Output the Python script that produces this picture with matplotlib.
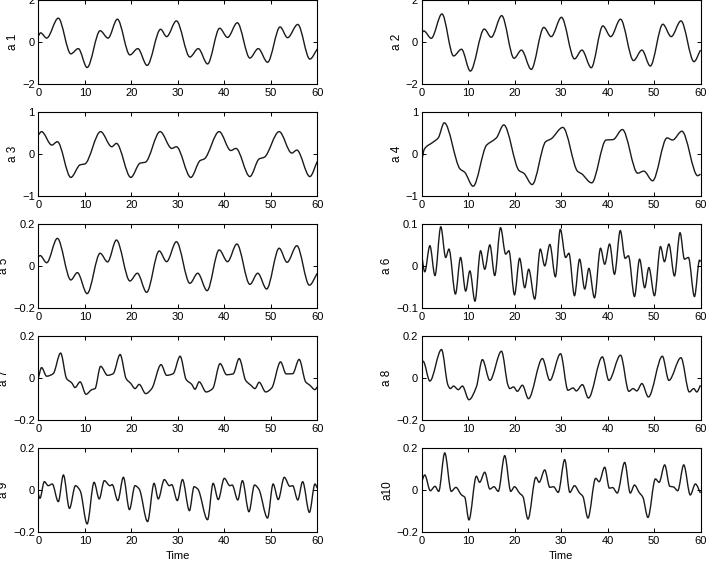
import numpy as np
import matplotlib
matplotlib.use("Agg")
import matplotlib.pyplot as plt
from matplotlib.path import Path
from matplotlib.patches import PathPatch

plt.rcParams['font.family'] = ['Liberation Sans', 'DejaVu Sans']

# ---- data: (time, value) of the turning points ----
t_a1 = [0, 0.5, 1.8, 4.3, 7.0, 8.6, 10.5, 13.3, 15.0, 17.0, 19.7, 21.4, 23.4, 26.3, 27.6, 29.7,
        32.6, 34.4, 36.4, 39.0, 40.7, 42.8, 45.5, 47.3, 49.3, 52.0, 53.6, 55.8, 58.4, 60]
v_a1 = [0.3, 0.45, 0.2, 1.15, -0.55, -0.3, -1.2, 0.55, 0.2, 1.1, -0.6, -0.3, -1.1, 0.62, 0.27, 1.02,
        -0.7, -0.3, -1.03, 0.67, 0.23, 0.93, -0.75, -0.3, -0.95, 0.73, 0.22, 0.85, -0.8, -0.32]

t_a2 = [0, 0.5, 2.1, 4.4, 6.9, 8.6, 10.5, 13.5, 15.0, 17.25, 19.9, 21.5, 23.6, 26.3, 27.9, 30.1,
        32.9, 34.5, 36.5, 39.0, 40.7, 42.8, 45.6, 47.4, 49.2, 51.9, 53.7, 55.8, 58.6, 60]
v_a2 = [0.43, 0.54, 0.19, 1.35, -0.65, -0.33, -1.37, 0.63, 0.24, 1.27, -0.76, -0.37, -1.29, 0.71, 0.27, 1.19,
        -0.79, -0.37, -1.21, 0.78, 0.27, 1.1, -0.87, -0.37, -1.13, 0.86, 0.27, 1.02, -0.92, -0.37]

t_a3 = [0, 0.7, 2.9, 4.1, 7.0, 9.0, 10.0, 13.4, 15.8, 16.8, 19.9, 21.9, 23.0, 26.2, 28.7, 29.7,
        32.8, 34.8, 35.7, 38.9, 41.4, 42.5, 45.5, 47.5, 48.6, 51.8, 54.5, 55.6, 58.4, 60]
v_a3 = [0.46, 0.54, 0.22, 0.3, -0.55, -0.25, -0.23, 0.54, 0.18, 0.26, -0.55, -0.21, -0.19, 0.54, 0.14, 0.18,
        -0.55, -0.15, -0.11, 0.54, 0.09, 0.14, -0.53, -0.11, -0.07, 0.54, 0.03, 0.1, -0.53, -0.17]

t_a4 = [0, 0.6, 2.5, 3.6, 4.9, 8.3, 9.3, 11.1, 14.0, 15.0, 16.1, 17.7, 21.0, 22.0, 23.8, 26.7, 27.9,
        30.4, 33.6, 34.4, 36.6, 39.7, 41.2, 43.2, 46.5, 47.8, 49.7, 52.8, 54.0, 56.0, 59.4, 60]
v_a4 = [-0.19, 0.12, 0.29, 0.39, 0.75, -0.35, -0.43, -0.76, 0.22, 0.3, 0.39, 0.7, -0.39, -0.45, -0.72, 0.3, 0.37,
        0.64, -0.41, -0.46, -0.68, 0.34, 0.35, 0.59, -0.45, -0.4, -0.63, 0.39, 0.34, 0.55, -0.51, -0.47]

t_a5 = [0, 0.4, 1.8, 4.1, 7.0, 8.4, 10.5, 13.3, 14.9, 16.8, 19.7, 21.3, 23.3, 26.0, 27.6, 29.7,
        32.6, 34.3, 36.3, 38.9, 40.7, 42.7, 45.5, 47.2, 49.1, 51.8, 53.5, 55.6, 58.3, 60]
v_a5 = [0.046, 0.051, 0.017, 0.133, -0.065, -0.03, -0.13, 0.062, 0.021, 0.125, -0.07, -0.033, -0.124, 0.073,
        0.022, 0.117, -0.081, -0.033, -0.116, 0.078, 0.022, 0.106, -0.086, -0.033, -0.108, 0.086, 0.019,
        0.098, -0.09, -0.033]

t_a6 = [0, 0.7, 1.8, 2.9, 4.15, 5.2, 5.9, 7.3, 8.4, 9.5, 10.4, 11.5, 12.7, 13.6, 14.7, 15.75, 17.0,
        18.1, 18.8, 20.0, 21.1, 22.2, 23.05, 24.35, 25.55, 26.5, 27.6, 28.8, 29.85, 31.0, 31.7, 32.9,
        34.0, 35.1, 36.0, 37.2, 38.5, 39.4, 40.45, 41.5, 42.75, 43.8, 44.5, 45.8, 46.9, 48.0, 48.9,
        50.1, 51.4, 52.25, 53.2, 54.4, 55.6, 56.55, 57.4, 58.7, 59.8, 60]
v_a6 = [0.029, -0.013, 0.049, -0.022, 0.094, 0.021, 0.041, -0.066, 0.021, -0.059, -0.011, -0.083, 0.037,
        -0.007, 0.051, -0.022, 0.092, 0.029, 0.037, -0.068, 0.019, -0.051, -0.007, -0.078, 0.041, 0.001,
        0.052, -0.025, 0.088, 0.021, 0.031, -0.07, 0.017, -0.054, -0.005, -0.075, 0.043, 0.005, 0.053,
        -0.019, 0.085, 0.019, 0.025, -0.072, 0.017, -0.051, -0.003, -0.07, 0.047, 0.011, 0.053, -0.023,
        0.08, 0.017, 0.021, -0.072, 0.015, 0.011]

t_a7 = [0, 0.7, 1.8, 3.2, 4.8, 6.1, 7.2, 7.9, 9.0, 10.25, 11.5, 12.2, 13.4, 14.9, 16.1, 17.6, 18.9,
        19.9, 20.8, 21.7, 23.1, 24.4, 26.4, 27.6, 29.0, 30.5, 31.8, 33.0, 33.7, 34.6, 36.1, 37.5, 39.1,
        40.5, 41.9, 43.2, 44.6, 45.7, 46.6, 47.5, 48.9, 50.2, 52.1, 53.3, 54.7, 56.1, 57.5, 58.4, 59.5, 60]
v_a7 = [0.0, 0.051, 0.01, 0.022, 0.12, -0.002, -0.022, -0.044, -0.017, -0.076, -0.054, -0.049, 0.057,
        0.014, 0.022, 0.113, -0.002, -0.025, -0.049, -0.029, -0.073, -0.049, 0.065, 0.014, 0.022, 0.105,
        -0.006, -0.029, -0.052, -0.017, -0.065, -0.049, 0.07, 0.017, 0.021, 0.094, -0.01, -0.033, -0.049,
        -0.019, -0.065, -0.046, 0.078, 0.021, 0.022, 0.09, -0.017, -0.033, -0.054, -0.041]

t_a8 = [0, 0.35, 1.8, 4.3, 5.7, 6.2, 6.9, 7.9, 8.8, 10.2, 11.8, 13.1, 14.7, 17.2, 18.6, 19.0, 19.8,
        20.6, 21.7, 23.0, 26.0, 27.6, 29.9, 31.5, 32.6, 33.3, 34.6, 35.9, 38.9, 40.3, 42.8, 44.6, 45.5,
        46.3, 47.4, 48.8, 51.8, 53.2, 55.8, 57.6, 58.55, 59.2, 60]
v_a8 = [0.07, 0.081, -0.013, 0.137, -0.033, -0.049, -0.037, -0.054, -0.037, -0.102, -0.041, 0.089, -0.01,
        0.129, -0.033, -0.049, -0.041, -0.062, -0.033, -0.097, 0.094, -0.01, 0.117, -0.057, -0.046, -0.06,
        -0.03, -0.094, 0.102, -0.01, 0.11, -0.062, -0.049, -0.06, -0.025, -0.089, 0.105, -0.01, 0.098,
        -0.065, -0.049, -0.065, -0.033]

t_a9 = [0, 0.35, 1.3, 2.15, 3.0, 4.3, 5.4, 6.7, 8.0, 9.0, 10.5, 12.0, 13.1, 14.2, 15.4, 15.9, 17.1,
        18.3, 19.6, 20.8, 21.7, 23.5, 24.9, 25.8, 27.1, 28.2, 28.7, 29.9, 31.0, 32.5, 33.5, 34.3, 36.4,
        37.6, 38.7, 40.0, 41.2, 41.7, 42.9, 43.9, 45.3, 46.5, 47.4, 49.3, 50.5, 51.6, 52.9, 54.1, 54.7,
        55.8, 56.85, 58.3, 59.5, 60]
v_a9 = [-0.017, -0.038, 0.041, 0.022, 0.03, -0.054, 0.073, -0.086, 0.022, -0.002, -0.16, 0.038, -0.041,
        0.046, 0.022, 0.027, -0.049, 0.062, -0.092, 0.022, 0.006, -0.149, 0.033, -0.041, 0.051, 0.022,
        0.027, -0.049, 0.051, -0.097, 0.017, 0.006, -0.14, 0.033, -0.044, 0.057, 0.022, 0.025, -0.046,
        0.046, -0.102, 0.025, 0.006, -0.132, 0.03, -0.044, 0.062, 0.019, 0.022, -0.046, 0.041, -0.105,
        0.03, 0.01]

t_a10 = [0, 0.7, 1.9, 2.9, 3.7, 5.0, 6.4, 7.4, 8.6, 9.3, 10.2, 11.8, 12.5, 13.6, 14.7, 15.6, 16.5,
         17.9, 19.2, 20.0, 21.1, 21.8, 22.9, 24.6, 25.3, 26.5, 27.6, 28.4, 29.4, 30.8, 31.9, 32.9, 34.0,
         34.7, 35.8, 37.45, 38.2, 39.4, 40.4, 41.1, 42.1, 43.7, 44.9, 45.8, 46.8, 47.6, 48.7, 50.3, 51.1,
         52.3, 53.4, 54.2, 55.1, 56.4, 57.8, 58.9, 60]
v_a10 = [0.038, 0.073, -0.002, 0.019, -0.005, 0.178, -0.005, 0.014, -0.022, -0.033, -0.141, 0.067, 0.038,
         0.086, 0.006, 0.017, -0.005, 0.165, -0.005, 0.017, -0.014, -0.029, -0.137, 0.062, 0.038, 0.097,
         0.014, 0.017, -0.01, 0.146, -0.01, 0.022, -0.013, -0.029, -0.132, 0.057, 0.041, 0.11, 0.01, 0.013,
         -0.013, 0.133, -0.013, 0.025, -0.01, -0.033, -0.129, 0.054, 0.038, 0.121, 0.019, 0.016, -0.002,
         0.121, -0.022, 0.03, -0.013]

series = [("a 1", t_a1, v_a1), ("a 2", t_a2, v_a2), ("a 3", t_a3, v_a3), ("a 4", t_a4, v_a4),
          ("a 5", t_a5, v_a5), ("a 6", t_a6, v_a6), ("a 7", t_a7, v_a7), ("a 8", t_a8, v_a8),
          ("a 9", t_a9, v_a9), ("a10", t_a10, v_a10)]
ylims = [2, 2, 1, 1, 0.2, 0.1, 0.2, 0.2, 0.2, 0.2]
x_ticks = [0, 10, 20, 30, 40, 50, 60]


def smooth_path(t, v):
    """Smooth curve through the read points, drawn as cubic Bezier segments."""
    t = np.asarray(t, float)
    v = np.asarray(v, float)
    h = np.diff(t)
    d = np.diff(v) / h
    m = np.zeros_like(v)
    for i in range(1, len(v) - 1):
        if d[i - 1] * d[i] > 0:
            w1 = 2 * h[i] + h[i - 1]
            w2 = h[i] + 2 * h[i - 1]
            m[i] = (w1 + w2) / (w1 / d[i - 1] + w2 / d[i])
    m[0] = d[0]
    m[-1] = d[-1]
    verts = [(t[0], v[0])]
    codes = [Path.MOVETO]
    for i in range(len(v) - 1):
        dt = h[i] / 3.0
        verts += [(t[i] + dt, v[i] + m[i] * dt),
                  (t[i + 1] - dt, v[i + 1] - m[i + 1] * dt),
                  (t[i + 1], v[i + 1])]
        codes += [Path.CURVE4] * 3
    return Path(verts, codes)


fig = plt.figure(figsize=(7.11, 5.65), dpi=100)
W, H = 711.0, 565.0
lefts = [38.3, 421.5]
width = 279.0
height = 84.0
bottoms = [84.3 + 112.0 * r for r in range(5)]

for k, (name, t, v) in enumerate(series):
    r, c = divmod(k, 2)
    ax = fig.add_axes([lefts[c] / W, 1 - bottoms[r] / H, width / W, height / H])
    ax.add_patch(PathPatch(smooth_path(t, v), fill=False, edgecolor='#1a1a1a', lw=1.0))
    lim = ylims[k]
    ax.set_xlim(0, 60)
    ax.set_ylim(-lim, lim)
    ax.set_xticks(x_ticks)
    ax.set_yticks([-lim, 0, lim])
    ax.set_yticklabels([f"{-lim:g}".replace('-', '\u2212'), "0", f"{lim:g}"])
    ax.tick_params(direction='in', top=True, right=True, length=3, width=0.7,
                   labelsize=8, pad=2.5)
    for s in ax.spines.values():
        s.set_linewidth(0.8)
    ax.set_ylabel(name, fontsize=8.5, labelpad=2)
    if r == 4:
        ax.set_xlabel("Time", fontsize=8, labelpad=3.5)

fig.savefig("out.png", dpi=100)
